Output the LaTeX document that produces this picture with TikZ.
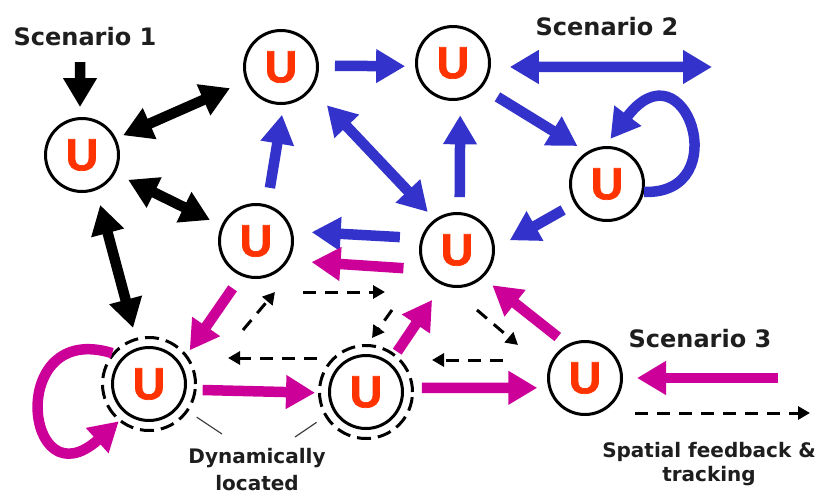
\documentclass[tikz,border=0pt]{standalone}
\usepackage{fontspec}
\usetikzlibrary{arrows.meta}
\newfontfamily\ufont{Liberation Sans}[BoldFeatures={FakeBold=1.5}]
\newfontfamily\lfont{DejaVu Sans}
\definecolor{ublue}{RGB}{51,51,204}
\definecolor{umag}{RGB}{204,0,153}
\definecolor{ured}{RGB}{255,51,0}
\definecolor{utext}{RGB}{30,30,30}
\tikzset{
  bigtip/.tip={Triangle[length=29pt,width=32pt]},
  smalltip/.tip={Triangle[length=12pt,width=13pt]},
  unode/.style={circle,draw=black,fill=white,line width=3pt,minimum size=73pt,inner sep=0pt,text=ured,font=\ufont\bfseries\fontsize{45}{45}\selectfont},
  ring/.style={circle,draw=black,line width=3pt,minimum size=93pt,inner sep=0pt,dash pattern=on 14pt off 7pt},
  blk/.style={draw=black,line width=10.5pt},
  blu/.style={draw=ublue,line width=10.5pt},
  mag/.style={draw=umag,line width=10.5pt},
  dsh/.style={draw=black,line width=3pt,dash pattern=on 13pt off 9pt,-smalltip},
  lead/.style={draw=black!75,line width=1.2pt},
  lab/.style={font=\lfont\bfseries\fontsize{24}{24}\selectfont,text=utext,anchor=base,inner sep=0pt},
  slab/.style={font=\lfont\bfseries\fontsize{20}{20}\selectfont,text=utext,anchor=base,inner sep=0pt}
}
\begin{document}
\begin{tikzpicture}[x=1pt,y=-1pt]
\fill[white] (0,0) rectangle (819,496);
\useasboundingbox (0,0) rectangle (819,496);
% nodes
\node[ring] (gr) at (149,384) {};
\node[ring] (hr) at (366,392) {};
\node[unode] (a) at (82,155) {U};
\node[unode] (b) at (281,67) {U};
\node[unode] (c) at (453,63) {U};
\node[unode] (d) at (607,184) {U};
\node[unode] (e) at (256,241) {U};
\node[unode] (f) at (457,250) {U};
\node[unode] (g) at (149,384) {U};
\node[unode] (h) at (366,392) {U};
\node[unode] (i) at (585,378) {U};
% labels
\node[lab] (t1) at (85,45) {Scenario 1};
\node[lab] (t2) at (607,35) {Scenario 2};
\node[lab] (t3) at (700,347) {Scenario 3};
\node[slab] (t4) at (709,457) {Spatial feedback \&};
\node[slab] (t5) at (709,481) {tracking};
\node[slab] (t6) at (257,463) {Dynamically};
\node[slab] (t7) at (257,490) {located};
% free ends
\coordinate (s1) at (80,62);
\coordinate (s2) at (712,67);
\coordinate (s3) at (778,378);
\coordinate (d1a) at (243,330); \coordinate (d1b) at (275,292);
\coordinate (d2a) at (303,292); \coordinate (d2b) at (385,292);
\coordinate (d3a) at (392,310); \coordinate (d3b) at (372,338);
\coordinate (d4a) at (477,310); \coordinate (d4b) at (518,345);
\coordinate (d5a) at (503,360); \coordinate (d5b) at (432,360);
\coordinate (d6a) at (317,358); \coordinate (d6b) at (228,358);
\coordinate (d7a) at (635,413); \coordinate (d7b) at (810,413);
\coordinate (ld1) at (222,434);
\coordinate (ld2) at (295,437);
% black
\draw[blk,-bigtip,shorten >=10pt] (s1) -- (a.93);
\draw[blk,bigtip-bigtip,shorten <=7.6pt,shorten >=17.2pt] (a.26) -- (b.-158);
\draw[blk,bigtip-bigtip,shorten <=14.4pt,shorten >=12.6pt] (a.-29) -- (e.156);
\draw[blk,bigtip-bigtip,shorten <=15.2pt,shorten >=10.3pt] (a.-68) -- (gr.106);
% blue
\draw[blu,-bigtip,shorten <=16pt,shorten >=10pt] (b.2) -- (c.185);
\draw[blu,bigtip-bigtip,shorten <=19pt] (c.-6) -- (s2);
\draw[blu,-bigtip,shorten <=18pt,shorten >=11pt] (c.-40) -- (d.122);
\draw[blu,-bigtip,shorten >=9pt] (d.-12) .. controls +(92,3) and +(80,-106) .. (d.93);
\draw[blu,-bigtip,shorten <=13pt,shorten >=17pt] (d.-149) -- (f.2);
\draw[blu,-bigtip,shorten <=15pt,shorten >=15pt] (f.86) -- (c.-79);
\draw[blu,bigtip-bigtip,shorten <=22pt,shorten >=10pt] (b.-36) -- (f.126);
\draw[blu,-bigtip,shorten <=17pt,shorten >=10pt] (e.73) -- (b.-86);
\draw[blu,-bigtip,shorten <=21pt,shorten >=19pt] (f.162) -- (e.15);
% magenta
\draw[mag,-bigtip,shorten <=21pt,shorten >=23pt] (f.-149) -- (e.-31);
\draw[mag,-bigtip,shorten <=15pt,shorten >=5pt] (e.-113) -- (gr.38);
\draw[mag,-bigtip] (gr.140) .. controls +(-107,-33) and +(-94,84) .. (gr.-129);
\draw[mag,-bigtip,shorten <=6pt,shorten >=3pt] (gr.-7) -- (hr.181);
\draw[mag,-bigtip,shorten <=3pt,shorten >=18pt] (hr.52) -- (f.-113);
\draw[mag,-bigtip,shorten <=8pt,shorten >=11pt] (hr.5) -- (i.195);
\draw[mag,-bigtip,shorten <=12pt,shorten >=12pt] (i.118) -- (f.-47);
\draw[mag,-bigtip,shorten >=14pt] (s3) -- (i.0);
% dashed
\draw[dsh] (d1a) -- (d1b);
\draw[dsh] (d2a) -- (d2b);
\draw[dsh] (d3a) -- (d3b);
\draw[dsh] (d4a) -- (d4b);
\draw[dsh] (d5a) -- (d5b);
\draw[dsh] (d6a) -- (d6b);
\draw[dsh] (d7a) -- (d7b);
% leaders
\draw[lead,shorten <=10pt] (gr.-35) -- (ld1);
\draw[lead,shorten <=10pt] (hr.-149) -- (ld2);
\end{tikzpicture}
\end{document}
